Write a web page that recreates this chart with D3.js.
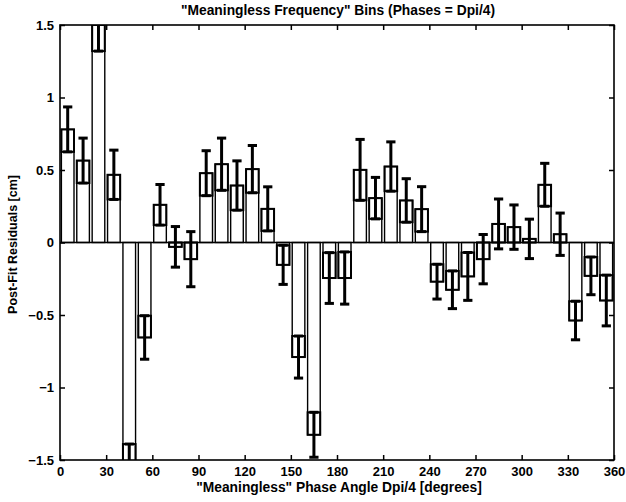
<!DOCTYPE html>
<html>
<head>
<meta charset="utf-8">
<script src="https://cdn.jsdelivr.net/npm/d3@7"></script>
<style>
  html, body { margin: 0; padding: 0; background: #fff; }
  svg text { font-family: "Liberation Sans", Arial, Helvetica, sans-serif; font-weight: bold; fill: #000; }
</style>
</head>
<body>
<svg id="chart" width="626" height="502"></svg>
<script>
// Phase bin centres (degrees), mean post-fit residual per bin (cm) and its 1-sigma error
const phases = [5, 15, 25, 35, 45, 55, 65, 75, 85, 95, 105, 115, 125, 135, 145, 155, 165, 175,
                185, 195, 205, 215, 225, 235, 245, 255, 265, 275, 285, 295, 305, 315, 325, 335, 345, 355];
const residuals = [0.78, 0.565, 1.50, 0.467, -1.53, -0.655, 0.26, -0.03, -0.115, 0.478, 0.54, 0.393,
                   0.506, 0.232, -0.154, -0.79, -1.326, -0.245, -0.245, 0.501, 0.306, 0.524, 0.29, 0.23,
                   -0.27, -0.326, -0.234, -0.115, 0.128, 0.106, 0.025, 0.398, 0.057, -0.538, -0.23, -0.40];
const sigmas = [0.155, 0.155, 0.18, 0.17, 0.14, 0.15, 0.14, 0.14, 0.19, 0.155, 0.18, 0.17,
                0.163, 0.152, 0.135, 0.145, 0.155, 0.175, 0.18, 0.21, 0.143, 0.17, 0.15, 0.155,
                0.12, 0.13, 0.165, 0.17, 0.172, 0.153, 0.136, 0.148, 0.146, 0.133, 0.13, 0.175];
const xTicks = [0, 30, 60, 90, 120, 150, 180, 210, 240, 270, 300, 330, 360];
const yTicks = [-1.5, -1, -0.5, 0, 0.5, 1, 1.5];

const titleText = "\"Meaningless Frequency\" Bins (Phases = Dpi/4)";
const xLabelText = "\"Meaningless\" Phase Angle Dpi/4 [degrees]";
const yLabelText = "Post-Fit Residuals [cm]";

const plotL = 60, plotR = 614, plotT = 25, plotB = 460;
const binWidth = 10, barFrac = 0.82, capDeg = 6;

const svg = d3.select("#chart");
const x = d3.scaleLinear().domain([0, 360]).range([plotL, plotR]);
const y = d3.scaleLinear().domain([-1.5, 1.5]).range([plotB, plotT]);

svg.append("defs").append("clipPath").attr("id", "plotclip")
  .append("rect").attr("x", plotL).attr("y", plotT)
  .attr("width", plotR - plotL).attr("height", plotB - plotT);

const data = phases.map((p, i) => ({ p, v: residuals[i], e: sigmas[i] }));
const plot = svg.append("g").attr("clip-path", "url(#plotclip)");
const halfW = binWidth * barFrac / 2;
const innerLimit = d => d.v > 0 ? Math.max(0, d.v - d.e) : Math.min(0, d.v + d.e);

// bars from zero to the residual
plot.selectAll("rect.bar").data(data).join("rect")
  .attr("class", "bar")
  .attr("x", d => x(d.p - halfW))
  .attr("width", d => x(d.p + halfW) - x(d.p - halfW))
  .attr("y", d => y(Math.max(0, d.v)))
  .attr("height", d => Math.abs(y(d.v) - y(0)))
  .attr("fill", "#fff").attr("stroke", "#000").attr("stroke-width", 1.4);

// inner box between the residual and the error limit nearest zero
plot.selectAll("rect.inner").data(data).join("rect")
  .attr("class", "inner")
  .attr("x", d => x(d.p - halfW))
  .attr("width", d => x(d.p + halfW) - x(d.p - halfW))
  .attr("y", d => y(Math.max(d.v, innerLimit(d))))
  .attr("height", d => Math.abs(y(d.v) - y(innerLimit(d))))
  .attr("fill", "none").attr("stroke", "#000").attr("stroke-width", 2);

// zero baseline
plot.append("line")
  .attr("x1", plotL).attr("x2", plotR).attr("y1", y(0)).attr("y2", y(0))
  .attr("stroke", "#000").attr("stroke-width", 1.5);

// error bars
const eb = plot.selectAll("g.err").data(data).join("g").attr("class", "err");
eb.append("line")
  .attr("x1", d => x(d.p)).attr("x2", d => x(d.p))
  .attr("y1", d => y(d.v - d.e)).attr("y2", d => y(d.v + d.e))
  .attr("stroke", "#000").attr("stroke-width", 3);
eb.append("line")
  .attr("x1", d => x(d.p - capDeg / 2)).attr("x2", d => x(d.p + capDeg / 2))
  .attr("y1", d => y(d.v + d.e)).attr("y2", d => y(d.v + d.e))
  .attr("stroke", "#000").attr("stroke-width", 3);
eb.append("line")
  .attr("x1", d => x(d.p - capDeg / 2)).attr("x2", d => x(d.p + capDeg / 2))
  .attr("y1", d => y(d.v - d.e)).attr("y2", d => y(d.v - d.e))
  .attr("stroke", "#000").attr("stroke-width", 3);

// axes with inward ticks on all four sides
const fmt = d => (d < 0 ? "\u2212" : "") + Math.abs(d);
const axB = svg.append("g").attr("transform", `translate(0,${plotB})`)
  .call(d3.axisBottom(x).tickValues(xTicks).tickSizeInner(-5).tickSizeOuter(0).tickPadding(7).tickFormat(d => d));
const axT = svg.append("g").attr("transform", `translate(0,${plotT})`)
  .call(d3.axisTop(x).tickValues(xTicks).tickSizeInner(-5).tickSizeOuter(0).tickFormat(""));
const axL = svg.append("g").attr("transform", `translate(${plotL},0)`)
  .call(d3.axisLeft(y).tickValues(yTicks).tickSizeInner(-5).tickSizeOuter(0).tickPadding(6).tickFormat(fmt));
const axR = svg.append("g").attr("transform", `translate(${plotR},0)`)
  .call(d3.axisRight(y).tickValues(yTicks).tickSizeInner(-5).tickSizeOuter(0).tickFormat(""));
[axB, axT, axL, axR].forEach(a => {
  a.select(".domain").remove();
  a.selectAll(".tick line").attr("stroke", "#000").attr("stroke-width", 1.5);
  a.selectAll("text").attr("font-size", 13).attr("fill", "#000")
    .style("font-family", "'Liberation Sans', Arial, sans-serif").style("font-weight", "bold");
});

// frame
svg.append("rect").attr("x", plotL).attr("y", plotT)
  .attr("width", plotR - plotL).attr("height", plotB - plotT)
  .attr("fill", "none").attr("stroke", "#000").attr("stroke-width", 1.6);

// titles
svg.append("text").attr("x", 338).attr("y", 14.5)
  .attr("text-anchor", "middle").attr("font-size", 13.8).text(titleText);
svg.append("text").attr("x", 339).attr("y", 492)
  .attr("text-anchor", "middle").attr("font-size", 13.8).text(xLabelText);
svg.append("text").attr("transform", `translate(17,${(plotT + plotB) / 2 + 2}) rotate(-90)`)
  .attr("text-anchor", "middle").attr("font-size", 12.5).text(yLabelText);
</script>
</body>
</html>
